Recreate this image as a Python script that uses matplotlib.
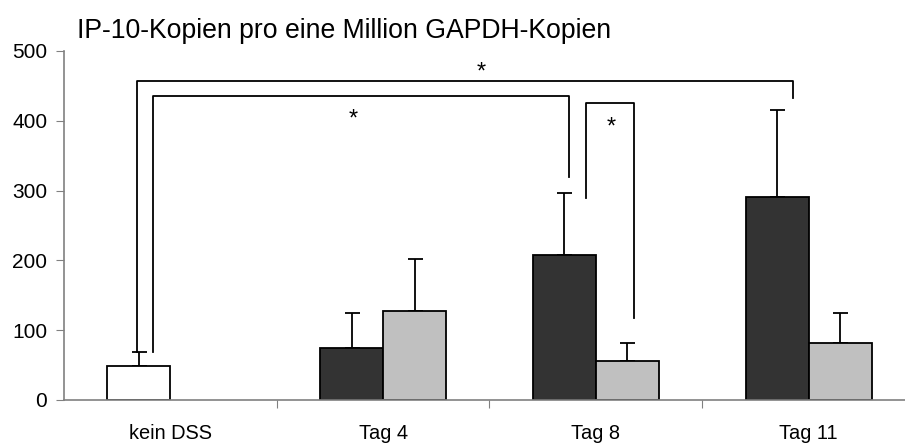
import numpy as np
import matplotlib.pyplot as plt

plt.rcParams['font.family'] = ['Liberation Sans', 'DejaVu Sans']

categories = ["kein DSS", "Tag 4", "Tag 8", "Tag 11"]
control_mean = [48]
control_err = [21]
dss_mean = [74, 208, 291]
dss_err = [51, 89, 124]
other_mean = [128, 56, 82]
other_err = [74, 26, 43]

# significance brackets: (x_left, y_left_end, x_right, y_right_end, y_top, star_x, star_y)
brackets = [
    (-0.155, 69, 2.925, 433, 457, 1.46, 469),
    (-0.083, 69, 1.873, 320, 435, 0.86, 402),
    (1.953, 290, 2.178, 117, 425, 2.07, 391),
]

fig = plt.figure(figsize=(9.05, 4.43), dpi=100)
ax = fig.add_axes([0.0707, 0.0971, 0.9403, 0.7878])

w = 0.296
x = np.arange(len(categories))
grey_axis = "#808080"

ax.bar(x[:1] - w / 2, control_mean, w, color="white", edgecolor="black", linewidth=1.3, zorder=2)
ax.bar(x[1:] - w / 2, dss_mean, w, color="#333333", edgecolor="black", linewidth=1.3, zorder=2)
ax.bar(x[1:] + w / 2, other_mean, w, color="#c0c0c0", edgecolor="black", linewidth=1.3, zorder=2)

ekw = dict(fmt="none", ecolor="black", elinewidth=1.3, capsize=5.4, capthick=1.3, zorder=1)
ax.errorbar(x[:1] - w / 2, control_mean, yerr=[[0], control_err], **ekw)
ax.errorbar(x[1:] - w / 2, dss_mean, yerr=[[0] * 3, dss_err], **ekw)
ax.errorbar(x[1:] + w / 2, other_mean, yerr=[[0] * 3, other_err], **ekw)

for xl, yl, xr, yr, yt, sx, sy in brackets:
    ax.plot([xl, xl, xr, xr], [yl, yt, yt, yr], color="black", lw=1.3, clip_on=False)
    ax.text(sx, sy, "*", ha="center", va="center", fontsize=17)

ax.set_xlim(-0.5, 3.5)
ax.set_ylim(0, 500)
ax.set_yticks(range(0, 501, 100))
ax.set_xticks(np.arange(0.5, 3.5, 1.0))
ax.set_xticklabels([])
ax.set_xticks(x, minor=True)
ax.set_xticklabels(categories, minor=True)
ax.tick_params(axis="x", which="minor", length=0, pad=17, labelsize=14.4)
ax.tick_params(axis="x", which="major", direction="out", length=6, color=grey_axis)
ax.tick_params(axis="y", direction="out", length=6, color=grey_axis, labelsize=15, pad=6)

for s in ["top", "right"]:
    ax.spines[s].set_visible(False)
for s in ["left", "bottom"]:
    ax.spines[s].set_color(grey_axis)
    ax.spines[s].set_linewidth(1.2)

fig.text(0.085, 0.915, "IP-10-Kopien pro eine Million GAPDH-Kopien", fontsize=19.2, va="baseline")

fig.savefig("out.png", dpi=100)
